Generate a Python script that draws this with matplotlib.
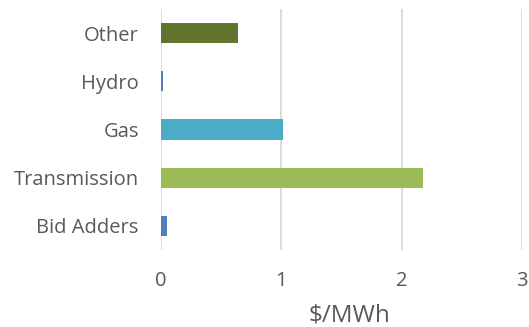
import matplotlib.pyplot as plt

categories = ['Bid Adders', 'Transmission', 'Gas', 'Hydro', 'Other']
values = [0.05, 2.18, 1.01, 0.015, 0.64]
colors = ['#4f81bd', '#9bbb59', '#4bacc6', '#4f81bd', '#62752f']

plt.rcParams['font.family'] = ['Open Sans', 'DejaVu Sans']

fig = plt.figure(figsize=(5.29, 3.27), dpi=100)
ax = fig.add_axes([161 / 529, 1 - 250 / 327, 361 / 529, 241 / 327])

ax.barh(categories, values, color=colors, height=0.415, zorder=3)

ax.set_xlim(0, 3)
ax.set_ylim(-0.5, 4.5)
ax.set_xticks([0, 1, 2, 3])
ax.grid(axis='x', color='#d9d9d9', linewidth=1.3, zorder=0)
for s in ax.spines.values():
    s.set_visible(False)
ax.tick_params(length=0, labelsize=14.5, colors='#595959')
ax.tick_params(axis='y', pad=16)
ax.tick_params(axis='x', pad=15)
ax.set_xlabel('$/MWh', fontsize=17.5, color='#595959')
ax.xaxis.label.set_va('center')
ax.xaxis.set_label_coords(0.523, -0.27)

fig.savefig('out.png', dpi=100)
